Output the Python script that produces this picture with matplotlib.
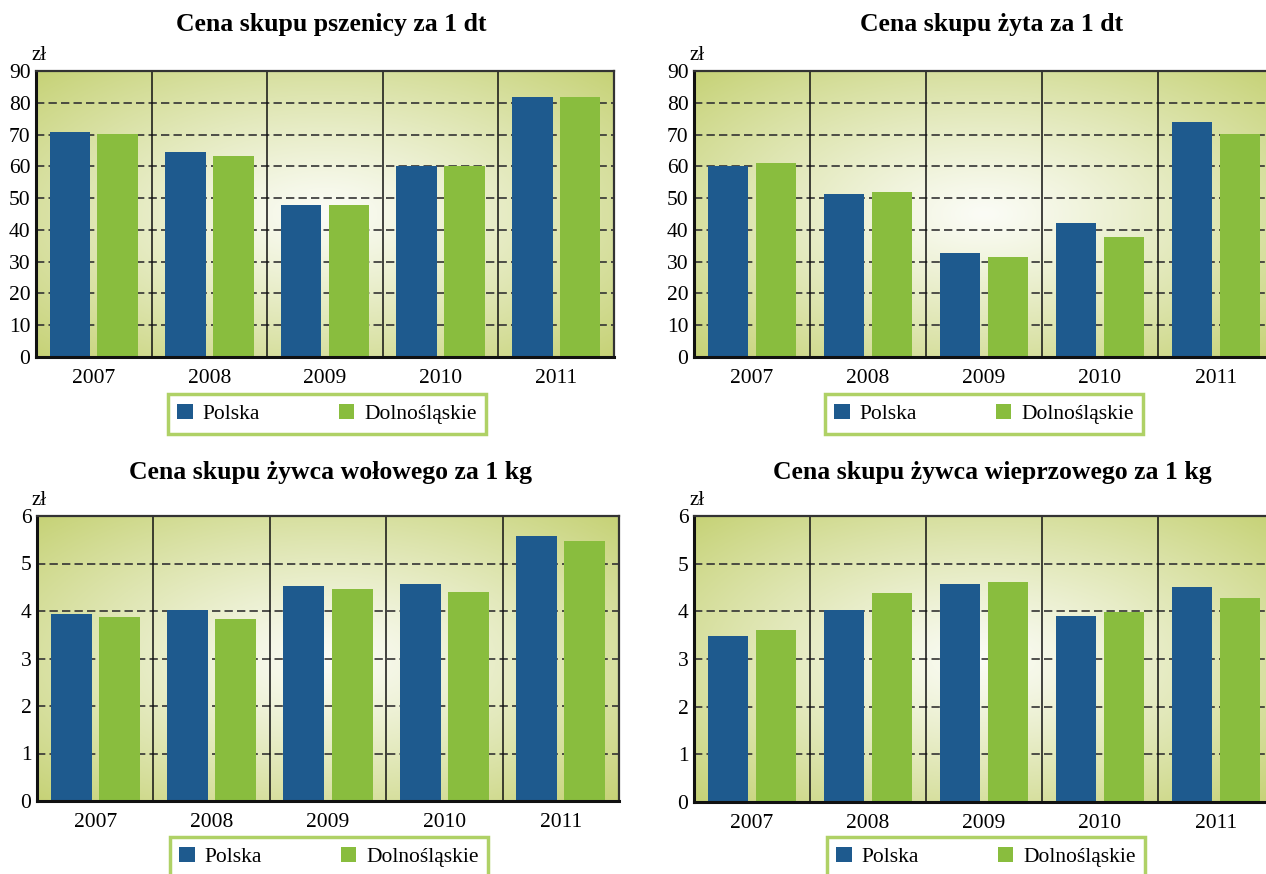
import matplotlib
matplotlib.use('Agg')
import matplotlib.pyplot as plt
import numpy as np

plt.rcParams['font.family'] = ['Liberation Serif', 'DejaVu Serif']

years = ['2007', '2008', '2009', '2010', '2011']
series_names = ['Polska', 'Dolnośląskie']

titles = ['Cena skupu pszenicy za 1 dt', 'Cena skupu żyta za 1 dt',
          'Cena skupu żywca wołowego za 1 kg', 'Cena skupu żywca wieprzowego za 1 kg']

pszenica_pl = [70.8, 64.5, 47.8, 60.1, 81.8]
pszenica_ds = [70.2, 63.2, 47.8, 60.1, 81.8]
zyto_pl = [60.2, 51.3, 32.7, 42.1, 73.9]
zyto_ds = [61.0, 51.9, 31.4, 37.7, 70.2]
wolowy_pl = [3.93, 4.02, 4.52, 4.56, 5.57]
wolowy_ds = [3.87, 3.83, 4.46, 4.41, 5.47]
wieprz_pl = [3.48, 4.02, 4.57, 3.90, 4.52]
wieprz_ds = [3.60, 4.38, 4.61, 3.98, 4.29]

data = [(pszenica_pl, pszenica_ds), (zyto_pl, zyto_ds),
        (wolowy_pl, wolowy_ds), (wieprz_pl, wieprz_ds)]
y_max = [90, 90, 6, 6]
y_step = [10, 10, 1, 1]

blue = '#1e5a8e'
green = '#89bd3e'
olive = np.array([198, 210, 118]) / 255
white = np.array([251, 252, 246]) / 255

W, H = 1266, 874
fig = plt.figure(figsize=(W / 100, H / 100), dpi=100)

# pozycje osi w pikselach: lewa krawędź, górna, szerokość, wysokość
boxes = [(36, 71, 578, 286), (694, 71, 580, 286),
         (37, 516, 582, 285), (694, 516, 580, 286)]
title_pos = [(331, 25), (992, 25), (330, 473), (992, 473)]
legend_pos = [(327, 414), (984, 414), (329, 857), (986, 857)]

# tło z gradientem (jasny środek, oliwkowe rogi)
gx, gy = np.meshgrid(np.linspace(-1, 1, 300), np.linspace(-1, 1, 200))
r = np.clip(np.sqrt(gx ** 2 + gy ** 2) / np.sqrt(2), 0, 1) ** 1.15
grad = white[None, None, :] * (1 - r[..., None]) + olive[None, None, :] * r[..., None]

x = np.arange(len(years))
for i, (pl, ds) in enumerate(data):
    lx, ty, bw, bh = boxes[i]
    ax = fig.add_axes([lx / W, 1 - (ty + bh) / H, bw / W, bh / H])
    ax.set_xlim(-0.5, 4.5)
    ax.set_ylim(0, y_max[i])
    ax.imshow(grad, extent=[-0.5, 4.5, 0, y_max[i]], aspect='auto', zorder=0)

    for v in np.arange(y_step[i], y_max[i], y_step[i]):
        ax.axhline(v, color='#333333', lw=1.2, dashes=(5, 2.5), zorder=1)
    for s in np.arange(0.5, 4.5, 1):
        ax.axvline(s, color='#111111', lw=1.1, zorder=1)

    ax.bar(x - 0.207, pl, width=0.352, color=blue, zorder=2, label=series_names[0])
    ax.bar(x + 0.207, ds, width=0.352, color=green, zorder=2, label=series_names[1])

    ax.set_xticks(x)
    ax.set_xticklabels(years)
    ax.set_yticks(np.arange(0, y_max[i] + y_step[i], y_step[i]))
    ax.tick_params(axis='both', length=0, labelsize=15.5)
    ax.tick_params(axis='x', pad=8.5)
    ax.tick_params(axis='y', pad=4)
    for side in ['left', 'bottom']:
        ax.spines[side].set_linewidth(2.2)
        ax.spines[side].set_color('#111111')
    for side in ['top', 'right']:
        ax.spines[side].set_linewidth(1.6)
        ax.spines[side].set_color('#333333')

    fig.text((lx - 5) / W, 1 - (ty - 6) / H, 'zł', fontsize=15, ha='left', va='bottom')

    tx, tyy = title_pos[i]
    fig.text(tx / W, 1 - tyy / H, titles[i], fontsize=18.5, fontweight='bold',
             ha='center', va='center')

    handles, labels = ax.get_legend_handles_labels()
    cx, cy = legend_pos[i]
    leg = fig.legend(handles, labels, loc='center', ncol=2,
                     bbox_to_anchor=(cx / W, 1 - cy / H),
                     fontsize=15.5, frameon=True, fancybox=False,
                     handlelength=0.7, handleheight=0.7, handletextpad=0.45,
                     columnspacing=3.7, borderpad=0.45, borderaxespad=0)
    leg.get_frame().set_edgecolor('#9bc640')
    leg.get_frame().set_linewidth(2.5)

fig.savefig('out.png', dpi=100)
